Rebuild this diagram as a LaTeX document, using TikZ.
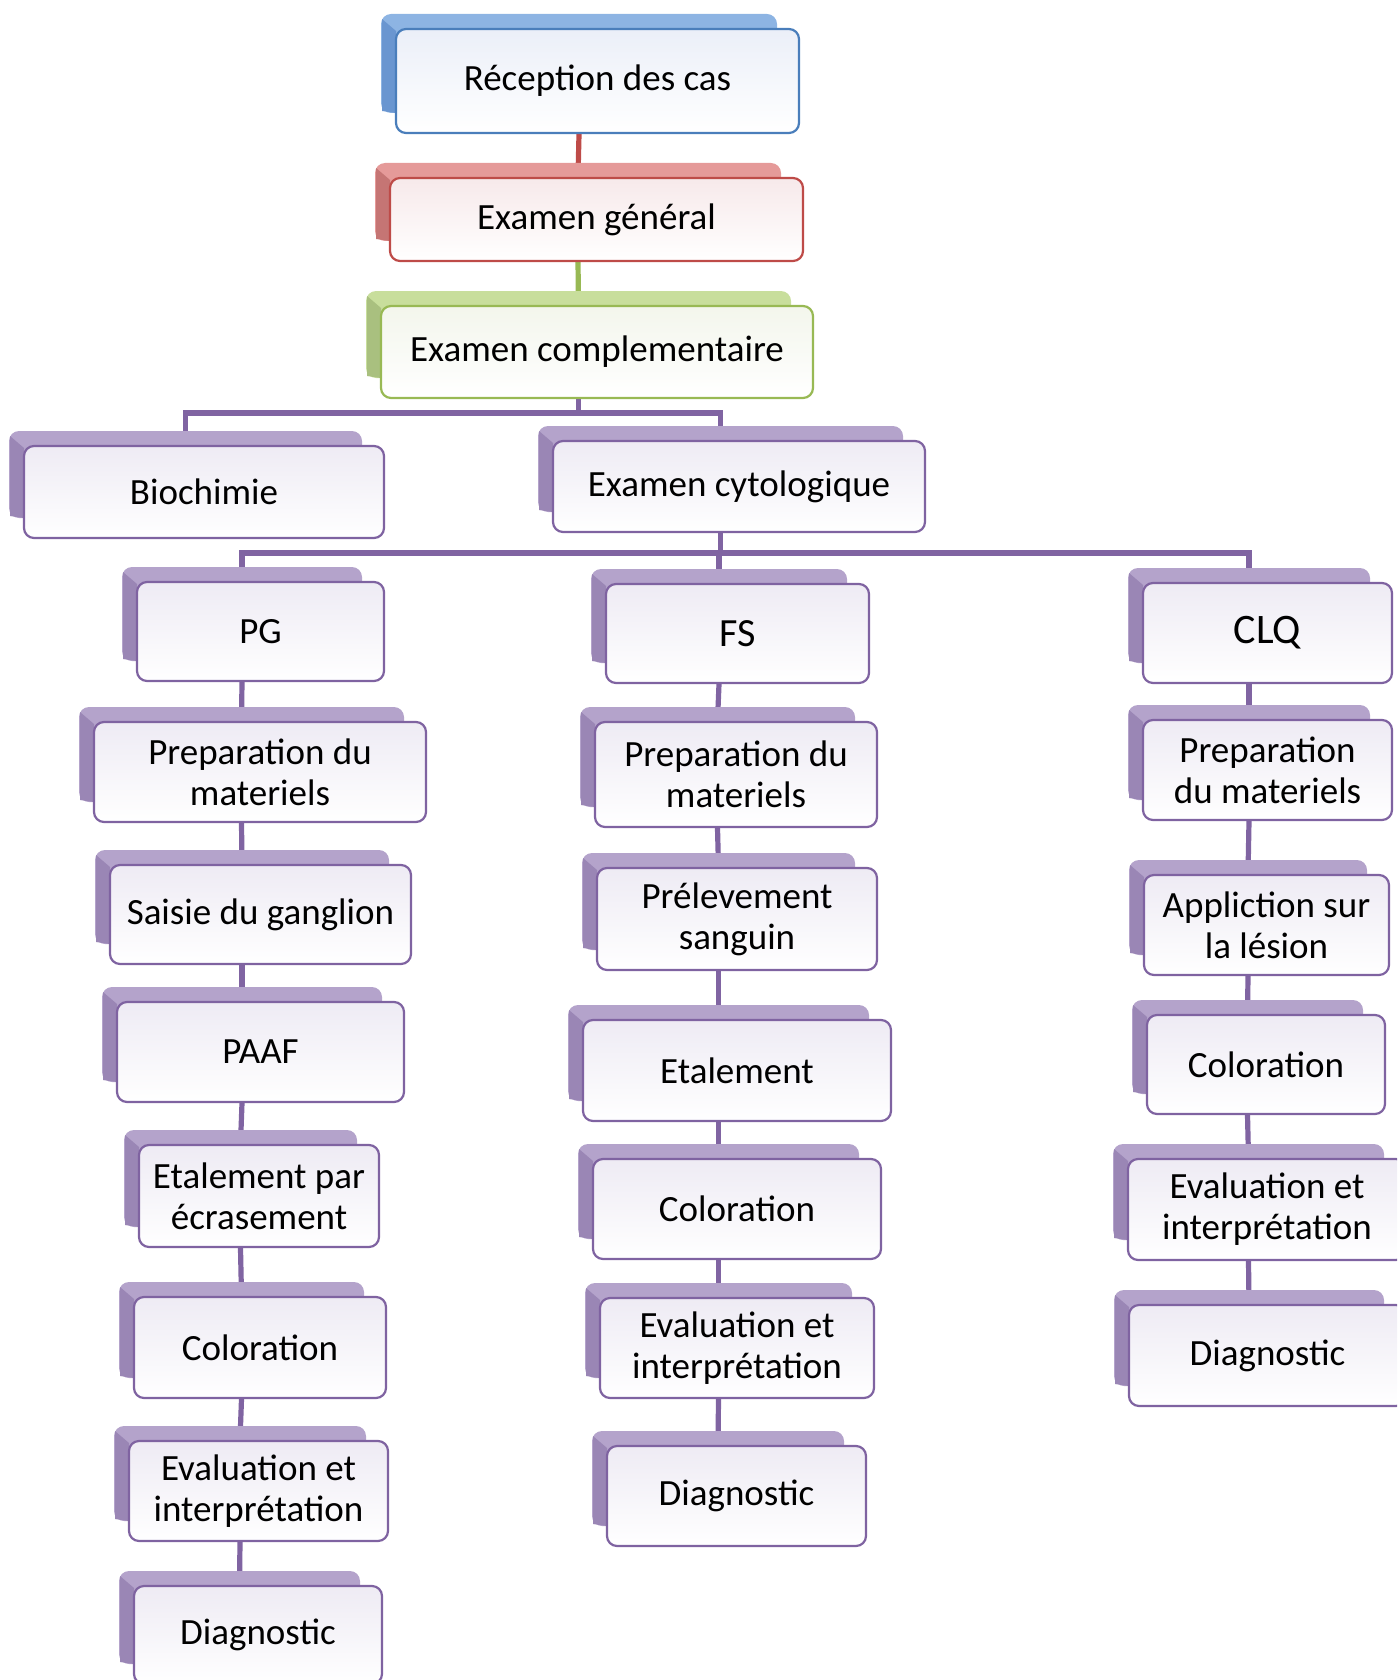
\documentclass[tikz,border=0pt]{standalone}
\usepackage{fontspec}
\setmainfont{Carlito}
\usetikzlibrary{backgrounds}
\definecolor{blbd}{HTML}{4A7EBB}\definecolor{blbk}{HTML}{8DB4E3}\definecolor{blsd}{HTML}{6A96D0}\definecolor{blfl}{HTML}{EBEFF8}
\definecolor{rdbd}{HTML}{BE4B48}\definecolor{rdbk}{HTML}{E59A99}\definecolor{rdsd}{HTML}{C57574}\definecolor{rdfl}{HTML}{F7E9EA}
\definecolor{grbd}{HTML}{98B954}\definecolor{grbk}{HTML}{C8DE9C}\definecolor{grsd}{HTML}{A9C07F}\definecolor{grfl}{HTML}{F3F6EC}
\definecolor{pubd}{HTML}{7F63A1}\definecolor{pubk}{HTML}{B4A3CB}\definecolor{pusd}{HTML}{9A86B5}\definecolor{pufl}{HTML}{EEEBF4}
\definecolor{puln}{HTML}{8064A2}
\tikzset{
  cbox/.style={rounded corners=5pt, line width=1.1pt, inner sep=2pt, align=center,
    font=\fontsize{18.5}{20.5}\selectfont, text=black},
  conn/.style={line width=2.6pt},
}
% name, x1, y1, x2, y2, colour prefix, text
\newcommand{\cbox}[7]{%
  \fill[#6bk, rounded corners=5pt] (#2-15,#3-15) rectangle (#4-22,#5-20);
  \fill[#6sd] (#2-14,#3-10) -- (#2,#3+2) -- (#2,#5-20) -- (#2-14,#5-22) -- cycle;
  \node[cbox, draw=#6bd, top color=#6fl, bottom color=white,
        minimum width={(#4-#2)*0.5pt}, minimum height={(#5-#3)*0.5pt}]
        (#1) at ({(#2+#4)/2},{(#3+#5)/2}) {#7};
}
\begin{document}
\begin{tikzpicture}[x=0.5pt,y=-0.5pt]
\useasboundingbox (0,0) rectangle (1397,1680);
\clip (0,0) rectangle (1397,1680);
\cbox{rec}{396}{29}{799}{133}{bl}{Réception des cas}
\cbox{gen}{390}{178}{803}{261}{rd}{Examen général}
\cbox{comp}{381}{306}{813}{398}{gr}{Examen complementaire}
\cbox{bio}{24}{446}{384}{538}{pu}{Biochimie}
\cbox{cyt}{553}{441}{925}{532}{pu}{Examen cytologique}
\cbox{pg}{137}{582}{384}{681}{pu}{PG}
\cbox{fs}{606}{584}{869}{683}{pu}{\fontsize{20}{22}\selectfont FS}
\cbox{clq}{1143}{583}{1392}{683}{pu}{\fontsize{21}{23}\selectfont CLQ}
\cbox{pga}{94}{722}{426}{822}{pu}{Preparation du\\materiels}
\cbox{pgb}{110}{865}{411}{964}{pu}{Saisie du ganglion}
\cbox{pgc}{117}{1002}{404}{1102}{pu}{PAAF}
\cbox{pgd}{139}{1145}{379}{1247}{pu}{Etalement par\\écrasement}
\cbox{pge}{134}{1297}{386}{1398}{pu}{Coloration}
\cbox{pgf}{129}{1441}{388}{1541}{pu}{Evaluation et\\interprétation}
\cbox{pgg}{134}{1586}{382}{1684}{pu}{Diagnostic}
\cbox{fsa}{595}{722}{877}{827}{pu}{Preparation du\\materiels}
\cbox{fsb}{597}{868}{877}{970}{pu}{Prélevement\\sanguin}
\cbox{fsc}{583}{1020}{891}{1121}{pu}{Etalement}
\cbox{fsd}{593}{1159}{881}{1259}{pu}{Coloration}
\cbox{fse}{600}{1298}{874}{1398}{pu}{Evaluation et\\interprétation}
\cbox{fsf}{607}{1446}{866}{1546}{pu}{Diagnostic}
\cbox{clqa}{1143}{720}{1392}{820}{pu}{Preparation\\du materiels}
\cbox{clqb}{1144}{875}{1389}{975}{pu}{Appliction sur\\la lésion}
\cbox{clqc}{1147}{1015}{1385}{1114}{pu}{Coloration}
\cbox{clqd}{1128}{1159}{1406}{1260}{pu}{Evaluation et\\interprétation}
\cbox{clqe}{1129}{1305}{1406}{1406}{pu}{Diagnostic}
\coordinate (bus1) at (578.5,413);
\coordinate (bus2) at (720.5,553);
\begin{pgfonlayer}{background}
\draw[conn,rdbd] ([xshift=-9.25pt]rec.south) -- ([xshift=-9.25pt]gen.north);
\draw[conn,grbd] ([xshift=-9.25pt]gen.south) -- ([xshift=-9.25pt]comp.north);
\draw[conn,puln] ([xshift=-9.25pt]comp.south) |- (bus1) -| ([xshift=-9.25pt]bio.north);
\draw[conn,puln] (bus1) -| ([xshift=-9.25pt]cyt.north);
\draw[conn,puln] ([xshift=-9.25pt]cyt.south) |- (bus2) -| ([xshift=-9.25pt]pg.north);
\draw[conn,puln] (bus2) -| ([xshift=-9.25pt]fs.north);
\draw[conn,puln] (bus2) -| ([xshift=-9.25pt]clq.north);
\foreach \a/\b in {pg/pga,pga/pgb,pgb/pgc,pgc/pgd,pgd/pge,pge/pgf,pgf/pgg,
                   fs/fsa,fsa/fsb,fsb/fsc,fsc/fsd,fsd/fse,fse/fsf,
                   clq/clqa,clqa/clqb,clqb/clqc,clqc/clqd,clqd/clqe}
  \draw[conn,puln] ([xshift=-9.25pt]\a.south) -- ([xshift=-9.25pt]\b.north);
\end{pgfonlayer}
\end{tikzpicture}
\end{document}
